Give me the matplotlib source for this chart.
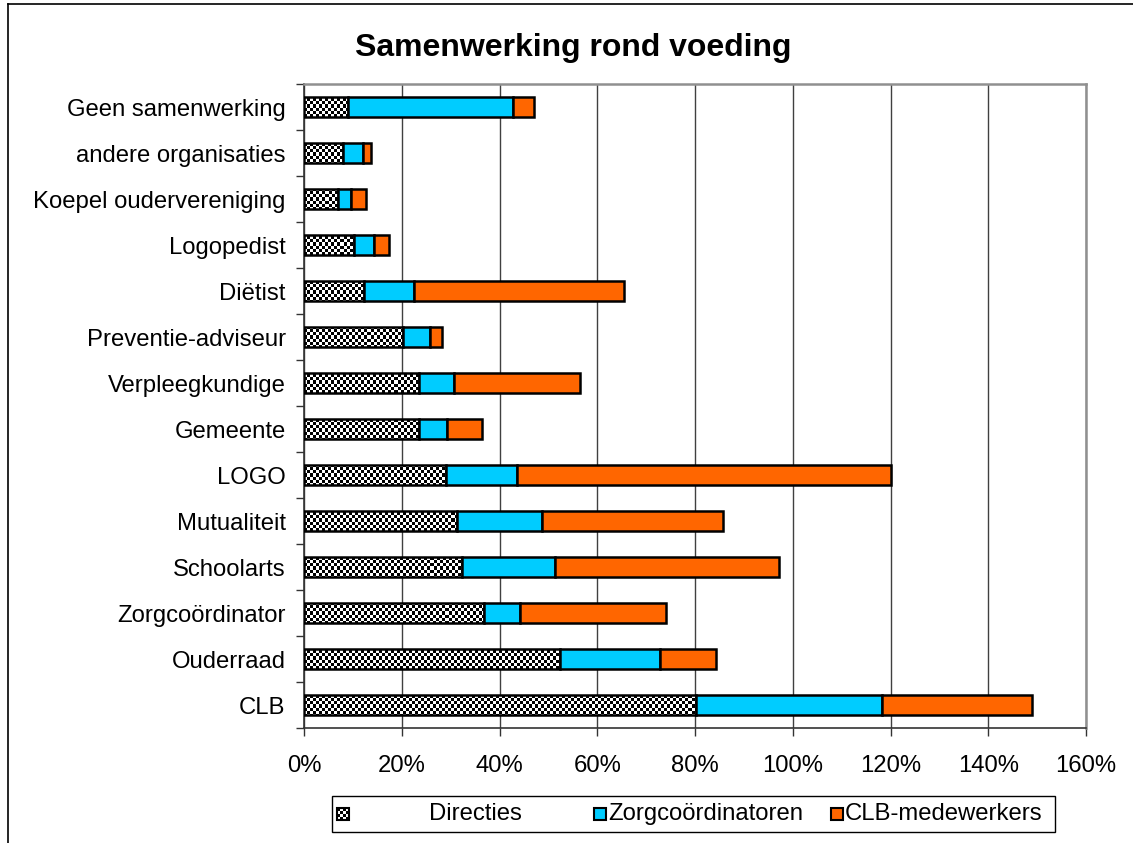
import numpy as np
import matplotlib
matplotlib.use("Agg")
import matplotlib.pyplot as plt
from matplotlib.patches import Rectangle
from matplotlib.lines import Line2D
from matplotlib.ticker import FixedLocator, FuncFormatter

plt.rcParams["font.family"] = ["Liberation Sans", "DejaVu Sans"]

# === DATA (bottom -> top, values in %) ===
categories = ["CLB", "Ouderraad", "Zorgcoördinator", "Schoolarts", "Mutualiteit", "LOGO",
              "Gemeente", "Verpleegkundige", "Preventie-adviseur", "Diëtist", "Logopedist",
              "Koepel oudervereniging", "andere organisaties", "Geen samenwerking"]
directies = [80.1, 52.3, 36.7, 32.2, 31.2, 29.0, 23.4, 23.4, 20.1, 12.2, 10.1, 6.8, 7.9, 9.0]
zorgcoordinatoren = [38.2, 20.5, 7.4, 19.1, 17.5, 14.6, 5.8, 7.3, 5.7, 10.3, 4.2, 2.7, 4.2, 33.7]
clb_medewerkers = [30.7, 11.5, 30.0, 45.8, 37.1, 76.4, 7.1, 25.8, 2.3, 42.9, 3.1, 3.1, 1.5, 4.3]
series_names = ["Directies", "Zorgcoördinatoren", "CLB-medewerkers"]
x_ticks = [0, 20, 40, 60, 80, 100, 120, 140, 160]
title = "Samenwerking rond voeding"

# === SETTINGS ===
W, H = 1133, 843
CYAN = "#00CCFF"
ORANGE = "#FF6600"
FS = 17.2
BAR_H = 0.435
EDGE_LW = 1.8

# plot area in pixels (top-left origin)
PL, PR, PT, PB = 304.3, 1086.0, 84.3, 728.3

fig = plt.figure(figsize=(W / 100, H / 100), dpi=100)
ax = fig.add_axes([PL / W, 1 - PB / H, (PR - PL) / W, (PB - PT) / H])

y = np.arange(len(categories))
d = np.array(directies)
z = np.array(zorgcoordinatoren)
c = np.array(clb_medewerkers)

# checkerboard pattern (3 px squares) covering the whole plot area
hpx, wpx = int(round(PB - PT)), int(round(PR - PL))
ii, jj = np.indices((hpx, wpx))
checker = ((ii // 3 + jj // 3) % 2).astype(float)

bars_d = ax.barh(y, d, height=BAR_H, color="white", edgecolor="none", zorder=2)
for patch in bars_d:
    im = ax.imshow(checker, cmap="gray", vmin=0, vmax=1, interpolation="nearest",
                   extent=(0, 160, -0.5, len(categories) - 0.5), aspect="auto",
                   origin="upper", zorder=3)
    im.set_clip_path(patch)
ax.barh(y, d, height=BAR_H, color="none", edgecolor="black", lw=EDGE_LW, zorder=4)
ax.barh(y, z, left=d, height=BAR_H, color=CYAN, edgecolor="black", lw=EDGE_LW, zorder=4)
ax.barh(y, c, left=d + z, height=BAR_H, color=ORANGE, edgecolor="black", lw=EDGE_LW, zorder=4)

ax.set_xlim(0, 160)
ax.set_ylim(-0.5, len(categories) - 0.5)

# axes formatting
ax.xaxis.set_major_locator(FixedLocator(x_ticks))
ax.xaxis.set_major_formatter(FuncFormatter(lambda v, p: f"{v:.0f}%"))
ax.tick_params(axis="x", direction="out", length=5.5, width=1, color="#333333",
               pad=14, labelsize=FS)
ax.set_yticks(y)
ax.set_yticklabels(categories)
ax.tick_params(axis="y", which="major", length=0, pad=13.4, labelsize=FS)
ax.set_yticks(np.arange(-0.5, len(categories), 1), minor=True)
ax.tick_params(axis="y", which="minor", direction="out", length=5.5, width=1, color="#333333")

ax.set_axisbelow(True)
ax.grid(axis="x", color="#404040", lw=1)
ax.spines["left"].set_color("#333333")
ax.spines["bottom"].set_color("#333333")
ax.spines["left"].set_linewidth(1.2)
ax.spines["bottom"].set_linewidth(1.2)
ax.spines["top"].set_color("#909090")
ax.spines["right"].set_color("#909090")
ax.spines["top"].set_linewidth(1.8)
ax.spines["right"].set_linewidth(1.8)

# title
fig.text(573.5 / W, 1 - 48 / H, title, ha="center", va="center",
         fontsize=23, fontweight="bold")

# outer chart border (left and top edges visible)
fig.add_artist(Line2D([7.5 / W, 7.5 / W], [0, 1 - 4 / H], color="black", lw=1.2,
                      transform=fig.transFigure))
fig.add_artist(Line2D([7.5 / W, 1], [1 - 4 / H, 1 - 4 / H], color="black", lw=1.2,
                      transform=fig.transFigure))

# legend, drawn by hand to mimic the Excel layout
LX0, LX1, LY0, LY1 = 331.7, 1055.0, 796.0, 832.3
fig.add_artist(Rectangle((LX0 / W, 1 - LY1 / H), (LX1 - LX0) / W, (LY1 - LY0) / H,
                         facecolor="white", edgecolor="black", lw=1,
                         transform=fig.transFigure, zorder=1))
MS = 12
my = 814
marker_x = [337, 594, 831]
text_x = [429, 608, 845]
fills = [None, CYAN, ORANGE]
mi, mj = np.indices((MS, MS))
small_checker = ((mi // 3 + mj // 3) % 2).astype(float)
fig.figimage(small_checker, xo=marker_x[0], yo=H - (my + MS / 2), cmap="gray",
             vmin=0, vmax=1, origin="upper", zorder=2)
for name, mx, tx, fc in zip(series_names, marker_x, text_x, fills):
    fig.add_artist(Rectangle((mx / W, 1 - (my + MS / 2) / H), MS / W, MS / H,
                             facecolor=fc if fc else "none", edgecolor="black", lw=1.5,
                             transform=fig.transFigure, zorder=3))
    fig.text(tx / W, 1 - my / H, name, ha="left", va="center", fontsize=FS, zorder=3)

fig.savefig("out.png", dpi=100)
